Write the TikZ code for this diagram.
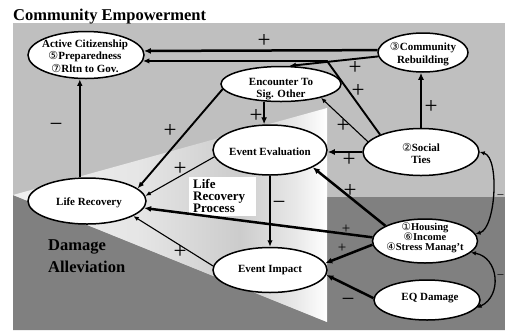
\documentclass[tikz,border=0pt]{standalone}
\usepackage{fontspec}
\setmainfont{Liberation Serif}
\newfontfamily\circfont{DejaVu Sans}
\usetikzlibrary{shapes.geometric,arrows.meta}
\pgfdeclarehorizontalshading{funnelshade}{100bp}{color(0bp)=(black!6); color(25bp)=(black!6); color(45bp)=(black!10); color(61bp)=(black!20); color(70bp)=(black!9); color(75bp)=(white); color(100bp)=(white)}
\newcommand{\cd}[1]{{\circfont\mdseries #1}}
\begin{document}
\begin{tikzpicture}[x=1pt,y=-1pt,
  ell/.style={ellipse, draw=black, line width=1.5pt, fill=white, inner sep=0pt},
  txt/.style={font=\bfseries\fontsize{11}{12.5}\selectfont, align=center, inner sep=0pt},
  htxt/.style={font=\bfseries\fontsize{10.5}{10.2}\selectfont, align=center, inner sep=0pt},
  big/.style={font=\bfseries\fontsize{16.5}{22}\selectfont, align=left, inner sep=0pt},
  lrp/.style={font=\bfseries\fontsize{13}{12}\selectfont, align=left, inner sep=0pt},
  sg/.style={font=\fontsize{23}{23}\selectfont, inner sep=0pt},
  sgs/.style={font=\fontsize{15}{15}\selectfont, inner sep=0pt},
  sgx/.style={font=\fontsize{13}{13}\selectfont, inner sep=0pt},
  athick/.style={line width=2.5pt, -{Latex[length=7pt,width=6pt]}},
  amid/.style={line width=1.9pt, -{Latex[length=6.5pt,width=5.5pt]}},
  athin/.style={line width=1.1pt, -{Latex[length=5.5pt,width=4.5pt]}},
  cur/.style={line width=1.3pt, {Latex[length=5pt,width=4.5pt]}-{Latex[length=5pt,width=4.5pt]}}
]
\useasboundingbox (0,0) rectangle (505,330);
% background
\fill[black!25] (13,23) rectangle (505,330);
\fill[black!50] (13,195) -- (327,322) -- (327,197) -- (505,197) -- (505,330) -- (13,330) -- cycle;
\shade[shading=funnelshade] (13,195) -- (327,108) -- (327,322) -- cycle;
\fill[white] (189,177) rectangle (256,216);

% texts
\node[big, anchor=base west] (title) at (13,20) {Community Empowerment};
\node[big, anchor=west] (dmg) at (48,256) {Damage\\Alleviation};
\node[lrp, anchor=west] (lrproc) at (193,196) {Life\\Recovery\\Process};

% nodes
\node[ell, minimum width=116pt, minimum height=47pt] (ac) at (86,55) {};
\node[txt] (act) at (85,56) {Active Citizenship\\\cd{⑤}Preparedness\\\cd{⑦}Rltn to Gov.};
\node[ell, minimum width=90pt, minimum height=39pt] (cr) at (423,52.5) {};
\node[txt] (crt) at (423,54) {\cd{③}Community\\Rebuilding};
\node[ell, minimum width=120pt, minimum height=35pt] (enc) at (281,84) {};
\node[txt] (enct) at (281,89) {Encounter To\\Sig. Other};
\node[ell, minimum width=114pt, minimum height=50pt] (ee) at (270,150) {};
\node[txt] (eet) at (270,152) {Event Evaluation};
\node[ell, minimum width=116pt, minimum height=47pt] (st) at (421,152) {};
\node[txt] (stt) at (421,153.5) {\cd{②}Social\\Ties};
\node[ell, minimum width=118pt, minimum height=46pt] (lr) at (87,201) {};
\node[txt] (lrt) at (89,203) {Life Recovery};
\node[ell, minimum width=105pt, minimum height=44pt] (h) at (425,241) {};
\node[htxt] (ht) at (425,237.5) {\cd{①}Housing\\\cd{⑥}Income\\\cd{④}Stress Manag't};
\node[ell, minimum width=114pt, minimum height=45pt] (ei) at (270,270) {};
\node[txt] (eit) at (270,270) {Event Impact};
\node[ell, minimum width=106pt, minimum height=40pt] (eq) at (427,300) {};
\node[txt] (eqt) at (430,298) {EQ Damage};

\coordinate (k1) at (327,61);

% connectors
\draw[athick] (cr.177) -- (ac.4.5);
\draw[amid] (st.157.5) -- (k1) -- (ac.-6);
\draw[amid] (cr.185) -- (enc.65);
\draw[athin] (st.169) -- (enc.-19.6);
\draw[athick] (st.north) -- (st.north |- cr.south);
\draw[athick] (st.west) -- (st.west -| ee.east);
\draw[athick] (enc.226.6) -- (enc.226.6 |- ee.north);
\draw[amid] (enc.185.8) -- (lr.14);
\draw[athin] (ee.187) -- (lr.5);
\draw[amid] (lr.107) -- (lr.107 |- ac.south);
\draw[amid] (ee.south) -- (ei.north);
\draw[athick] (h.159.6) -- (ee.-22);
\draw[athick] (h.176.7) -- (lr.-7.3);
\draw[athick] (h.184.4) -- (ei.7);
\draw[athin] (ei.176) -- (lr.-18);
\draw[athick] (eq.178) -- (ei.-5);
\draw[cur] (st.east) to[out=-15,in=15,looseness=0.65] (h.8);
\draw[cur] (h.-14) to[out=-10,in=25,looseness=1.3] (eq.-9);

% signs
\node[sg] (p1) at (264,41) {+};
\node[sg] (p2) at (355,68) {+};
\node[sg] (p3) at (358,91) {+};
\node[sg] (p4) at (431,107) {+};
\node[sg] (p5) at (343,126) {+};
\node[sg] (p6) at (349,160) {+};
\node[sg] (p7) at (256,116) {+};
\node[sg] (p8) at (170,131) {+};
\node[sg] (p9) at (180,169) {+};
\node[sg] (p10) at (350,191) {+};
\node[sgs] (p11) at (346,229) {+};
\node[sgs] (p12) at (342,248) {+};
\node[sg] (p13) at (180,252) {+};
\node[sg] (m1) at (56,127) {−};
\node[sg] (m2) at (279,205) {−};
\node[sg] (m3) at (348,302) {−};
\node[sgx] (m4) at (500.5,197) {−};
\node[sgx] (m5) at (500.5,277) {−};
\end{tikzpicture}
\end{document}
